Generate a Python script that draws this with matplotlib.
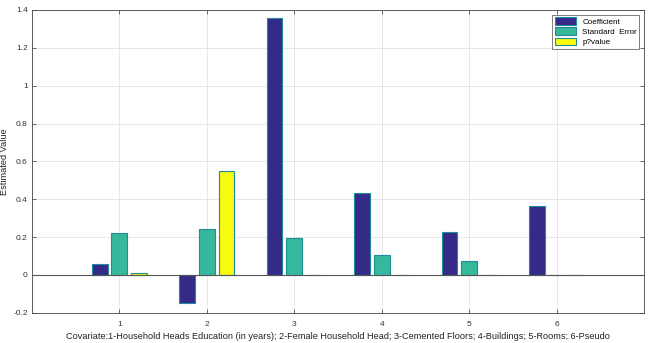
import numpy as np
import matplotlib
matplotlib.use("Agg")
import matplotlib.pyplot as plt

plt.rcParams["font.family"] = ["Liberation Sans", "DejaVu Sans"]

# values
covariates = [1, 2, 3, 4, 5, 6]
coefficient = [0.06, -0.15, 1.355, 0.435, 0.225, 0.365]
std_error = [0.222, 0.245, 0.196, 0.107, 0.075, 0.002]
p_value = [0.01, 0.55, 0.002, 0.002, 0.002, 0.002]
series_names = ["Coefficient", "Standard  Error", "p?value"]
xlabel = ("Covariate:1-Household Heads Education (in years); 2-Female Household Head; "
          "3-Cemented Floors; 4-Buildings; 5-Rooms; 6-Pseudo")

colors = ["#352a87", "#36b89c", "#f9fb0e"]
edge = "#1f8c9c"

fig = plt.figure(figsize=(6.5, 3.43), dpi=100)
ax = fig.add_axes([0.049, 0.088, 0.942, 0.883])

x = np.array(covariates, dtype=float)
offs = [-0.225, 0.0, 0.225]
w = 0.18
for vals, off, c, name in zip([coefficient, std_error, p_value], offs, colors, series_names):
    ax.bar(x + off, vals, width=w, color=c, edgecolor=edge, linewidth=0.8, label=name, zorder=3)

ax.axhline(0, color="#555555", linewidth=0.8, zorder=4)
ax.set_xlim(0, 7)
ax.set_ylim(-0.2, 1.4)
ax.set_xticks(covariates)
ax.set_yticks(np.arange(-0.2, 1.41, 0.2))
ax.set_yticklabels(["-0.2", "0", "0.2", "0.4", "0.6", "0.8", "1", "1.2", "1.4"])
ax.grid(True, color="#e3e3e3", linewidth=0.6, zorder=0)
ax.tick_params(labelsize=6, colors="#333333", direction="in", top=True, right=True,
               length=3, width=0.5, pad=3)
ax.tick_params(axis="x", pad=6)
for s in ax.spines.values():
    s.set_color("#444444")
    s.set_linewidth(0.6)
ax.set_xlabel(xlabel, fontsize=6.6, color="#222222", labelpad=3)
ax.set_ylabel("Estimated Value", fontsize=6.6, color="#222222", labelpad=3)
leg = ax.legend(loc="upper right", fontsize=5.8, frameon=True, fancybox=False,
                edgecolor="#444444", handlelength=2.6, handleheight=1.1,
                borderaxespad=0.6, labelspacing=0.2, borderpad=0.3)
leg.get_frame().set_linewidth(0.6)

fig.savefig("out.png", dpi=100)
